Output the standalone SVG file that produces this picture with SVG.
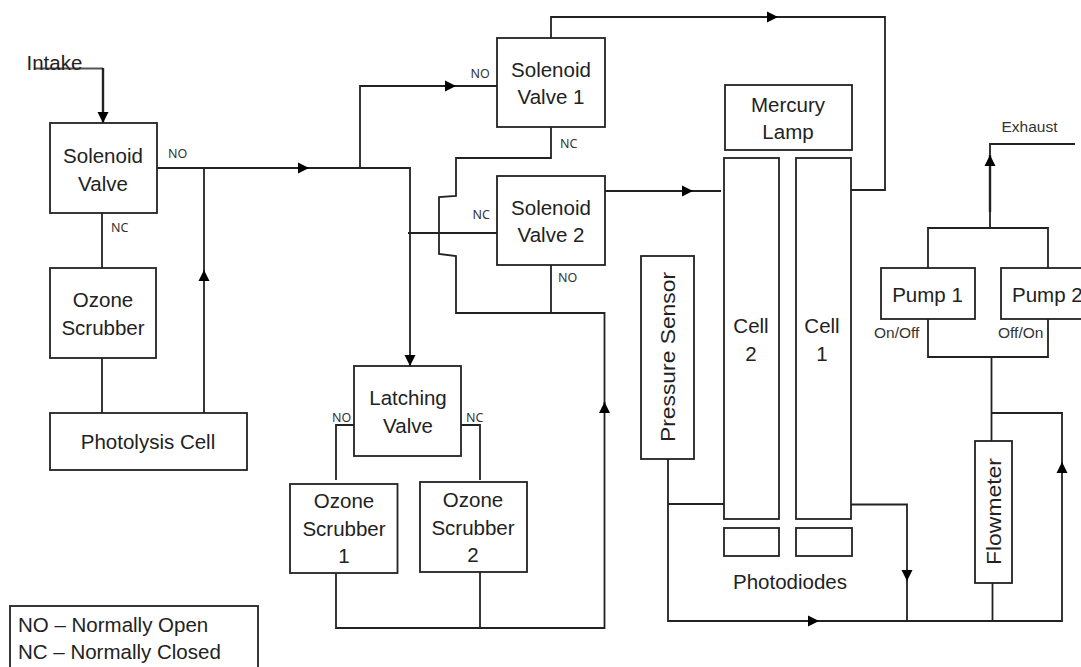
<svg xmlns="http://www.w3.org/2000/svg" width="1081" height="667" viewBox="0 0 1081 667">
<style>
rect{fill:#fff;stroke:#222;stroke-width:1.8}
.c path{fill:none;stroke:#222;stroke-width:1.8}
.c path.b{stroke-width:2.4}
.c path.g{stroke:#555}
text{font-family:"Liberation Sans",Arial,sans-serif;font-size:20.5px;fill:#222;text-anchor:middle}
text.s{font-family:"Noto Sans",sans-serif;font-size:12.5px;text-anchor:start;fill:#333}
text.m{font-size:15.5px;text-anchor:start;fill:#333}
text.l{text-anchor:start}
</style>
<defs>
<marker id="a" markerUnits="userSpaceOnUse" markerWidth="12" markerHeight="12" refX="11" refY="6" orient="auto"><path d="M0 0.5L11 6L0 11.5z" style="fill:#000;stroke:none"/></marker>
</defs>
<rect width="1081" height="667" style="fill:#fff;stroke:none"/>
<g id="connectors" class="c">
<path class="g" d="M35 68.500H103"/>
<path class="b" d="M103 68V123"/>
<path d="M157 168H410V366"/>
<path d="M204 168V413"/>
<path d="M102 213V268M102 358V413"/>
<path d="M360 168V86H497"/>
<path d="M551 38V17H885V190H851"/>
<path d="M551 127V158H456V196L439 197V254L456 256V313H604.500V628H336V573"/>
<path d="M480 572V628"/>
<path d="M551 265V313"/>
<path d="M408 233H497"/>
<path d="M605 191H721"/>
<path d="M354 425H336V480M461 425H480V480"/>
<path d="M668 459V621H1062V413H991.500"/>
<path d="M668 504H724"/>
<path d="M851 504.500H907V621"/>
<path d="M992.500 583V621"/>
<path d="M991.500 357V441"/>
<path d="M928 319V357H1048V319"/>
<path d="M928 268V228H1048V268"/>
<path d="M990 228V144H1075"/>
<path class="b" d="M990 212V155"/>
<path marker-end="url(#a)" d="M103 112V123"/>
<path marker-end="url(#a)" d="M298 168H309"/>
<path marker-end="url(#a)" d="M204 281V270"/>
<path marker-end="url(#a)" d="M445 86H456"/>
<path marker-end="url(#a)" d="M767 17H778"/>
<path marker-end="url(#a)" d="M682 191H693"/>
<path marker-end="url(#a)" d="M410 355V366"/>
<path marker-end="url(#a)" d="M604.500 413V402"/>
<path marker-end="url(#a)" d="M808 621H819"/>
<path marker-end="url(#a)" d="M907 570V581"/>
<path marker-end="url(#a)" d="M1062 473V462"/>
<path marker-end="url(#a)" d="M990 167V155"/>
</g>
<g id="intake"><text class="l" x="26.500" y="70">Intake</text></g>
<g id="solenoid-valve"><rect x="50" y="123" width="107" height="90"/><text x="103" y="163">Solenoid</text><text x="103" y="191">Valve</text><text class="s" x="168" y="158">NO</text><text class="s" x="111" y="232">NC</text></g>
<g id="ozone-scrubber"><rect x="50" y="268" width="106" height="90"/><text x="103" y="307">Ozone</text><text x="103" y="335">Scrubber</text></g>
<g id="photolysis-cell"><rect x="50" y="413" width="197" height="57"/><text x="148" y="449">Photolysis Cell</text></g>
<g id="solenoid-valve-1"><rect x="497" y="38" width="108" height="89"/><text x="551" y="77">Solenoid</text><text x="551" y="104">Valve 1</text><text class="s" x="470.500" y="78">NO</text><text class="s" x="560" y="148">NC</text></g>
<g id="solenoid-valve-2"><rect x="497" y="176" width="108" height="89"/><text x="551" y="215">Solenoid</text><text x="551" y="242">Valve 2</text><text class="s" x="472.500" y="219">NC</text><text class="s" x="558" y="282">NO</text></g>
<g id="latching-valve"><rect x="354" y="366" width="107" height="90"/><text x="408" y="405">Latching</text><text x="408" y="433">Valve</text><text class="s" x="332" y="422">NO</text><text class="s" x="466" y="422">NC</text></g>
<g id="ozone-scrubber-1"><rect x="290" y="484" width="107.500" height="89"/><text x="344" y="508">Ozone</text><text x="344" y="536">Scrubber</text><text x="344" y="563">1</text></g>
<g id="ozone-scrubber-2"><rect x="420" y="482" width="107" height="90"/><text x="473" y="507">Ozone</text><text x="473" y="535">Scrubber</text><text x="473" y="562">2</text></g>
<g id="mercury-lamp"><rect x="725" y="85" width="127" height="65"/><text x="788" y="112">Mercury</text><text x="788" y="139">Lamp</text></g>
<g id="cell-2"><rect x="724" y="158" width="55" height="361"/><text x="751" y="333">Cell</text><text x="751" y="361">2</text></g>
<g id="cell-1"><rect x="796" y="158" width="55" height="361"/><text x="822" y="333">Cell</text><text x="822" y="361">1</text></g>
<g id="photodiodes"><rect x="724" y="528" width="55" height="28"/><rect x="796" y="528" width="56" height="28"/><text x="790" y="589">Photodiodes</text></g>
<g id="pressure-sensor"><rect x="641" y="256" width="53" height="203"/><text transform="translate(675 357) rotate(-90)" textLength="170" lengthAdjust="spacingAndGlyphs">Pressure Sensor</text></g>
<g id="flowmeter"><rect x="975" y="441" width="37" height="142"/><text transform="translate(1001 511.500) rotate(-90)" textLength="107" lengthAdjust="spacingAndGlyphs">Flowmeter</text></g>
<g id="pump-1"><rect x="881" y="268" width="94" height="51"/><text x="927.500" y="302">Pump 1</text><text class="m" x="874" y="338">On/Off</text></g>
<g id="pump-2"><rect x="1001" y="268" width="90" height="51"/><text class="l" x="1012" y="302">Pump 2</text><text class="m" x="998" y="338">Off/On</text></g>
<g id="exhaust"><text class="m" x="1001.500" y="132">Exhaust</text></g>
<g id="legend"><rect x="10" y="606" width="248" height="70"/><text class="l" x="18" y="632">NO – Normally Open</text><text class="l" x="18" y="659">NC – Normally Closed</text></g>
</svg>
